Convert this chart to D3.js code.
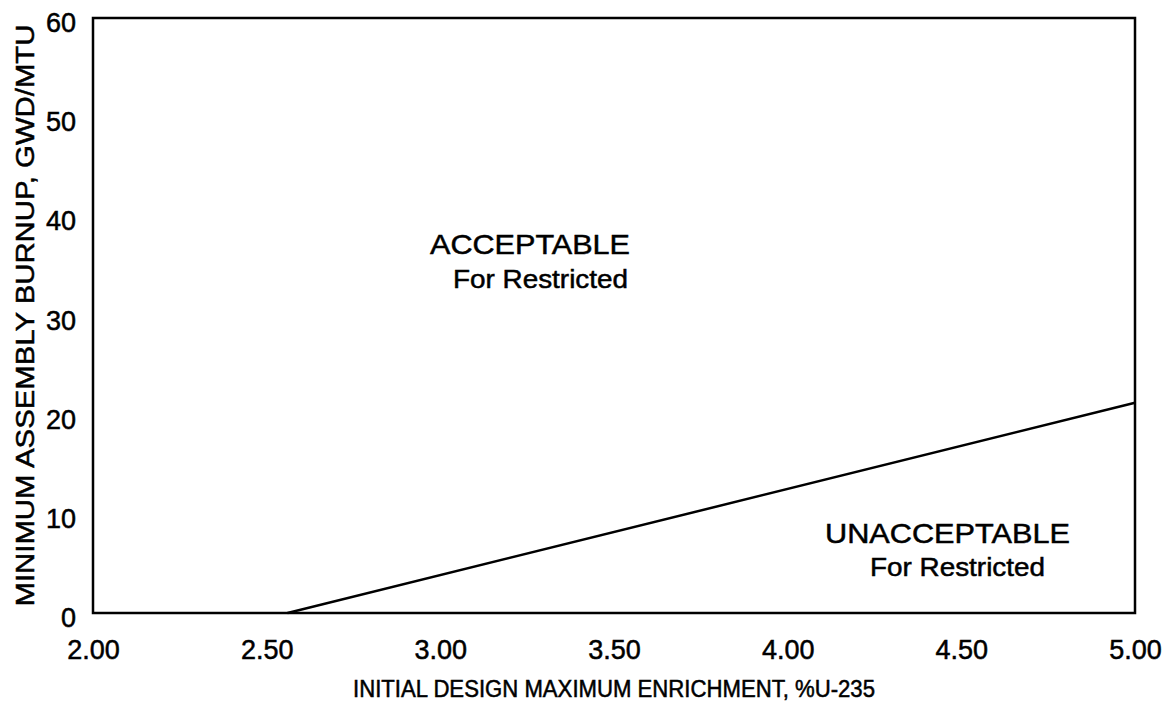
<!DOCTYPE html>
<html>
<head>
<meta charset="utf-8">
<script src="https://cdn.jsdelivr.net/npm/d3@7/dist/d3.min.js"></script>
<style>
  html, body { margin: 0; padding: 0; background: #fff; }
  svg { display: block; }
  text { font-family: Arial, "Liberation Sans", sans-serif; fill: #000; stroke: #000; stroke-width: 0.5px; }
</style>
</head>
<body>
<svg id="chart" width="1171" height="710"></svg>
<script>
// ---- data ----
const xTickValues = [2.00, 2.50, 3.00, 3.50, 4.00, 4.50, 5.00];
const yTickValues = [0, 10, 20, 30, 40, 50, 60];
const limitEnrichment = [2.56, 5.00];
const limitBurnup = [0, 21.2];
const xTitle = "INITIAL DESIGN MAXIMUM ENRICHMENT, %U-235";
const yTitle = "MINIMUM ASSEMBLY BURNUP, GWD/MTU";
const regionLabels = ["ACCEPTABLE", "For Restricted", "UNACCEPTABLE", "For Restricted"];

// ---- layout ----
const W = 1171, H = 710;
const margin = {left: 93, right: 36, top: 18, bottom: 97};
const svg = d3.select("#chart");

const x = d3.scaleLinear().domain([2, 5]).range([margin.left, W - margin.right]);
const y = d3.scaleLinear().domain([0, 60]).range([H - margin.bottom, margin.top]);

// frame
svg.append("rect")
  .attr("x", x(2)).attr("y", y(60))
  .attr("width", x(5) - x(2)).attr("height", y(0) - y(60))
  .attr("fill", "none").attr("stroke", "#000").attr("stroke-width", 2.5);

// axes (labels only)
const xAxis = d3.axisBottom(x).tickValues(xTickValues).tickFormat(d3.format(".2f")).tickSize(0).tickPadding(27);
const gx = svg.append("g").attr("transform", `translate(0,${y(0)})`).call(xAxis);
gx.select(".domain").remove();
gx.selectAll("text").attr("font-size", 27).attr("font-family", "Arial, 'Liberation Sans', sans-serif");

const yAxis = d3.axisLeft(y).tickValues(yTickValues).tickFormat(d3.format("d")).tickSize(0).tickPadding(17);
const gy = svg.append("g").attr("transform", `translate(${x(2)},0)`).call(yAxis);
gy.select(".domain").remove();
gy.selectAll("text").attr("font-size", 27).attr("font-family", "Arial, 'Liberation Sans', sans-serif").attr("dy", "0.5em");

// limit line
const pts = limitEnrichment.map((e, i) => [e, limitBurnup[i]]);
svg.append("path")
  .datum(pts)
  .attr("d", d3.line().x(d => x(d[0])).y(d => y(d[1])))
  .attr("fill", "none").attr("stroke", "#000").attr("stroke-width", 2.5);

// axis titles
svg.append("text")
  .attr("x", (x(2) + x(5)) / 2).attr("y", 697)
  .attr("text-anchor", "middle").attr("font-size", 23)
  .attr("textLength", 522).attr("lengthAdjust", "spacingAndGlyphs")
  .text(xTitle);

svg.append("text")
  .attr("transform", `translate(34,${(y(0) + y(60)) / 2}) rotate(-90)`)
  .attr("text-anchor", "middle").attr("font-size", 26)
  .attr("textLength", 582).attr("lengthAdjust", "spacingAndGlyphs")
  .text(yTitle);

// region labels
const lbl = [
  {t: regionLabels[0], x: 430, y: 254, len: 200, fs: 28},
  {t: regionLabels[1], x: 453, y: 288, len: 175, fs: 26},
  {t: regionLabels[2], x: 825, y: 543, len: 245, fs: 28},
  {t: regionLabels[3], x: 870, y: 576, len: 175, fs: 26}
];
svg.selectAll("text.region").data(lbl).join("text")
  .attr("class", "region")
  .attr("x", d => d.x).attr("y", d => d.y)
  .attr("font-size", d => d.fs)
  .attr("textLength", d => d.len).attr("lengthAdjust", "spacingAndGlyphs")
  .text(d => d.t);
</script>
</body>
</html>
